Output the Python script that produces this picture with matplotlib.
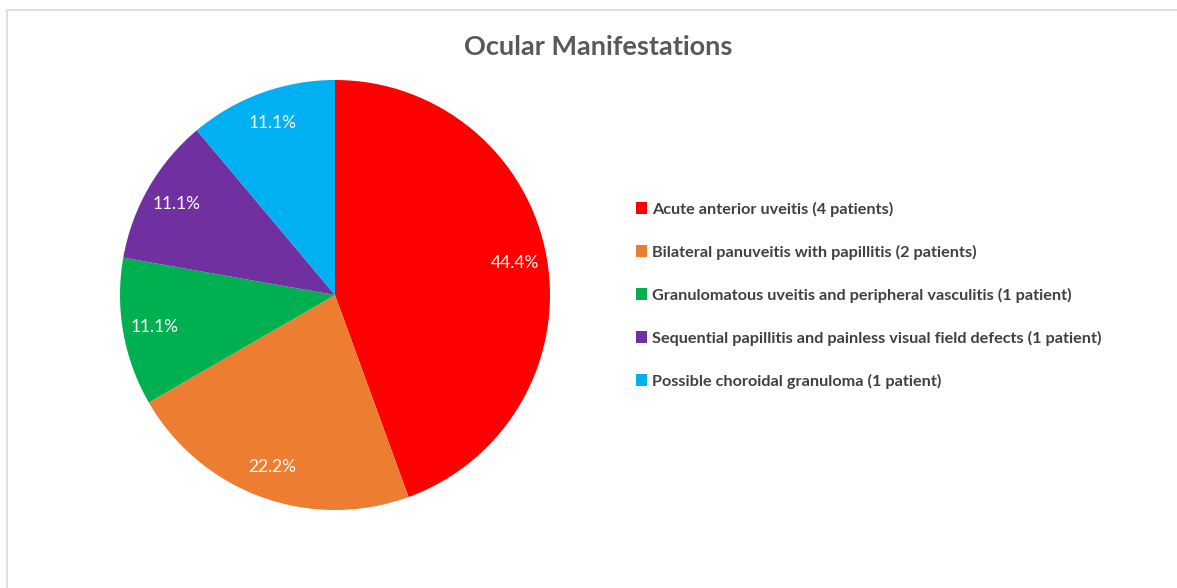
import matplotlib.pyplot as plt
from matplotlib.patches import Rectangle, Patch

labels = [
    "Acute anterior uveitis (4 patients)",
    "Bilateral panuveitis with papillitis (2 patients)",
    "Granulomatous uveitis and peripheral vasculitis (1 patient)",
    "Sequential papillitis and painless visual field defects (1 patient)",
    "Possible choroidal granuloma (1 patient)",
]
patients = [4, 2, 1, 1, 1]
colors = ["#FF0000", "#ED7D31", "#00B050", "#7030A0", "#00B0F0"]

W, H = 1177, 588
fig = plt.figure(figsize=(W / 100, H / 100), dpi=100)
# light frame around the chart area
fig.patches.append(Rectangle((7 / W, -0.01), 1.1, 1 - 10 / H + 0.01, transform=fig.transFigure,
                             fill=False, edgecolor="#D9D9D9", linewidth=1.2))

ax = fig.add_axes([120 / W, (H - 510) / H, 430 / W, 430 / H])
wedges, texts, autotexts = ax.pie(patients, colors=colors, startangle=90, counterclock=False,
                                  autopct="%1.1f%%", pctdistance=0.85, radius=1,
                                  wedgeprops=dict(linewidth=0),
                                  textprops=dict(color="white", fontsize=12.5, family="Lato"))
ax.set_xlim(-1, 1)
ax.set_ylim(-1, 1)
ax.set_aspect("auto")
ax.axis("off")

fig.text(598 / W, 1 - 47 / H, "Ocular Manifestations", ha="center", va="center",
         fontsize=19.5, fontweight="bold", color="#595959", family="Lato")

handles = [Patch(facecolor=c, edgecolor="none") for c in colors]
leg = fig.legend(handles, labels, loc="upper left", bbox_to_anchor=(621 / W, 1 - 187 / H),
                 frameon=False, handlelength=0.7, handleheight=0.7, handletextpad=0.3,
                 labelspacing=1.72, prop=dict(family="Lato", weight="bold", size=11.7))
for t in leg.get_texts():
    t.set_color("#404040")

fig.savefig("out.png", dpi=100)
